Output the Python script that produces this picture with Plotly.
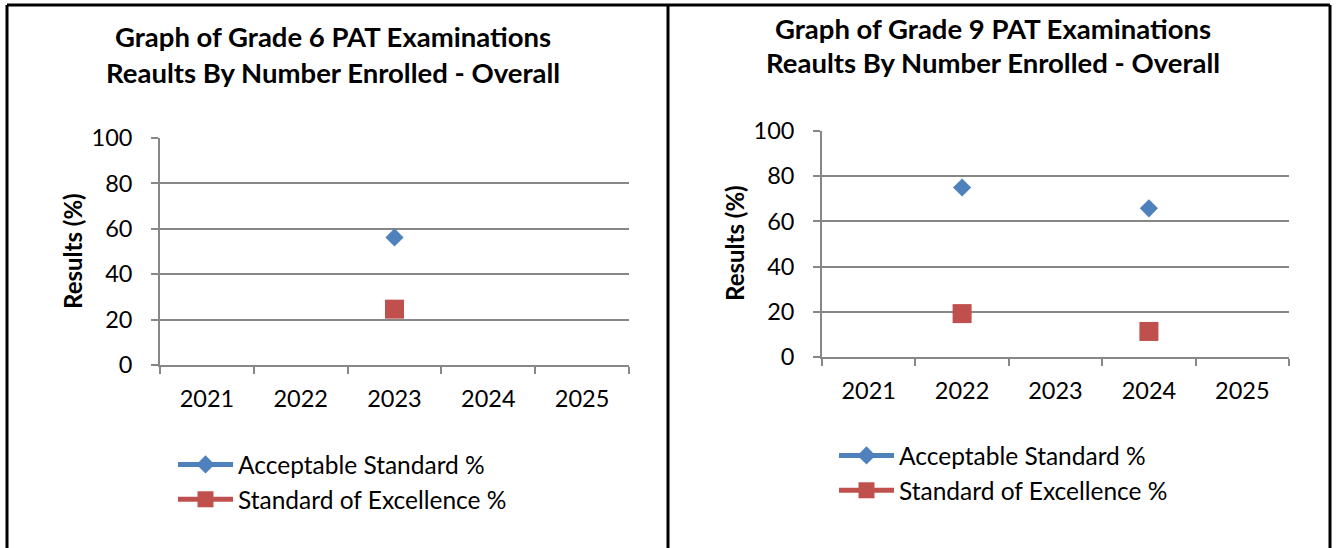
import plotly.graph_objects as go

years = ["2021", "2022", "2023", "2024", "2025"]
g6_acceptable = [None, None, 56.2, None, None]
g6_excellence = [None, None, 24.6, None, None]
g9_acceptable = [None, 75.0, None, 65.8, None]
g9_excellence = [None, 19.2, None, 11.3, None]

series_names = ["Acceptable Standard %", "Standard of Excellence %"]
title_g6 = ["Graph of Grade 6 PAT Examinations", "Reaults By Number Enrolled - Overall"]
title_g9 = ["Graph of Grade 9 PAT Examinations", "Reaults By Number Enrolled - Overall"]
y_ticks = [0, 20, 40, 60, 80, 100]

BLUE = "#4F81BD"
RED = "#C0504D"
GRID = "#878787"
FONT = "Lato"

W, H = 1337, 548


def px_x(v):
    return v / W


def px_y(v):
    return 1 - v / H


fig = go.Figure()

panels = [
    dict(xa="x", ya="y", legend="legend", acc=g6_acceptable, exc=g6_excellence),
    dict(xa="x2", ya="y2", legend="legend2", acc=g9_acceptable, exc=g9_excellence),
]

for i, p in enumerate(panels):
    fig.add_trace(go.Scatter(
        x=years, y=p["acc"], name=series_names[0], mode="lines+markers",
        xaxis=p["xa"], yaxis=p["ya"], legend=p["legend"], legendgroup=f"a{i}",
        line=dict(color=BLUE, width=5), connectgaps=False,
        marker=dict(symbol="diamond", size=14, color=BLUE),
    ))
    fig.add_trace(go.Scatter(
        x=years, y=p["exc"], name=series_names[1], mode="lines+markers",
        xaxis=p["xa"], yaxis=p["ya"], legend=p["legend"], legendgroup=f"e{i}",
        line=dict(color=RED, width=5), connectgaps=False,
        marker=dict(symbol="square", size=19, color=RED),
    ))

axis_common_y = dict(
    range=[0, 100], tickvals=y_ticks, showgrid=True, gridcolor=GRID, gridwidth=1.7,
    showline=True, linecolor=GRID, linewidth=1.7, ticks="outside", ticklen=7,
    tickcolor=GRID, tickwidth=1.7, tickfont=dict(family=FONT, size=23.5, color="black"),
    ticklabelstandoff=14, zeroline=False, fixedrange=True, automargin=False,
)
axis_common_x = dict(
    type="category", categoryorder="array", categoryarray=years, range=[-0.5, 4.5],
    showgrid=False, showline=True, linecolor=GRID, linewidth=1.7,
    ticks="outside", tickson="boundaries", ticklen=7, tickcolor=GRID, tickwidth=1.7,
    tickfont=dict(family=FONT, size=23.5, color="black"), ticklabelstandoff=12,
    zeroline=False, fixedrange=True, automargin=False,
)

legend_font = dict(family=FONT, size=24.5, color="black")
fig.update_layout(
    width=W, height=H,
    margin=dict(l=0, r=0, t=0, b=0, pad=0, autoexpand=False),
    paper_bgcolor="white", plot_bgcolor="white",
    xaxis=dict(domain=[px_x(160), px_x(629)], anchor="y", **axis_common_x),
    yaxis=dict(domain=[px_y(365), px_y(138)], anchor="x", **axis_common_y),
    xaxis2=dict(domain=[px_x(822), px_x(1289)], anchor="y2", **axis_common_x),
    yaxis2=dict(domain=[px_y(357), px_y(131)], anchor="x2", **axis_common_y),
    legend=dict(x=px_x(173), y=px_y(442), xanchor="left", yanchor="top",
                font=legend_font, tracegroupgap=8, itemwidth=55,
                bgcolor="rgba(0,0,0,0)", traceorder="normal"),
    legend2=dict(x=px_x(834), y=px_y(433), xanchor="left", yanchor="top",
                 font=legend_font, tracegroupgap=8, itemwidth=55,
                 bgcolor="rgba(0,0,0,0)", traceorder="normal"),
    showlegend=True,
)

annotations = []
for k, line in enumerate(title_g6):
    annotations.append(dict(text=f"<b>{line}</b>", x=px_x(333), y=px_y(36 + 36 * k),
                            xref="paper", yref="paper", xanchor="center", yanchor="middle",
                            showarrow=False, font=dict(family=FONT, size=27.5, color="black")))
for k, line in enumerate(title_g9):
    annotations.append(dict(text=f"<b>{line}</b>", x=px_x(993), y=px_y(28.5 + 34 * k),
                            xref="paper", yref="paper", xanchor="center", yanchor="middle",
                            showarrow=False, font=dict(family=FONT, size=27.5, color="black")))
annotations.append(dict(text="<b>Results (%)</b>", x=px_x(72), y=px_y(251), textangle=-90,
                        xref="paper", yref="paper", xanchor="center", yanchor="middle",
                        showarrow=False, font=dict(family=FONT, size=24, color="black")))
annotations.append(dict(text="<b>Results (%)</b>", x=px_x(735), y=px_y(243), textangle=-90,
                        xref="paper", yref="paper", xanchor="center", yanchor="middle",
                        showarrow=False, font=dict(family=FONT, size=24, color="black")))
fig.update_layout(annotations=annotations)

# Panel borders
border = dict(color="black", width=3)
shapes = [
    dict(type="line", xref="paper", yref="paper", x0=px_x(7), x1=px_x(1330), y0=px_y(5), y1=px_y(5), line=border),
    dict(type="line", xref="paper", yref="paper", x0=px_x(7), x1=px_x(7), y0=px_y(5), y1=0, line=border),
    dict(type="line", xref="paper", yref="paper", x0=px_x(668), x1=px_x(668), y0=px_y(5), y1=0, line=border),
    dict(type="line", xref="paper", yref="paper", x0=px_x(1330), x1=px_x(1330), y0=px_y(5), y1=0, line=border),
]
fig.update_layout(shapes=shapes)

fig.write_html(
    "out.html",
    config={"displayModeBar": False},
    post_script="document.body.style.margin='0';document.body.style.overflow='hidden';",
)
